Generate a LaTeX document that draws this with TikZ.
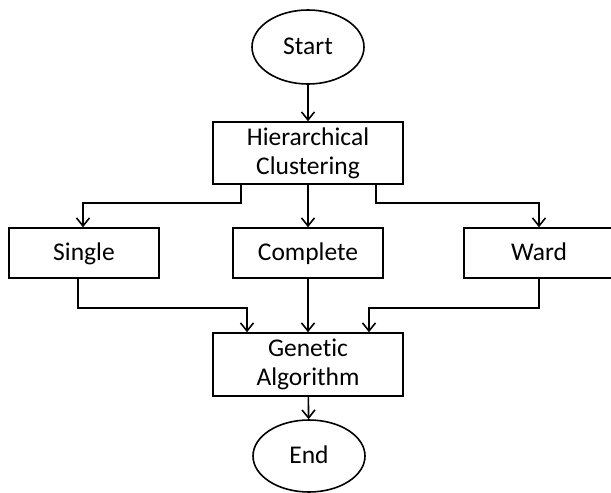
\documentclass[tikz,border=0pt]{standalone}
\usepackage{fontspec}
\setmainfont{Carlito}[Ligatures={NoCommon}]
\usetikzlibrary{shapes.geometric,arrows.meta,calc}
\begin{document}
\begin{tikzpicture}[x=1pt,y=-1pt,
  every node/.style={font=\fontsize{25.5}{29}\selectfont, text=black, align=center, inner sep=0pt},
  oneline/.style={text height=18pt, text depth=4pt},
  box/.style={draw, line width=1.6pt, rectangle},
  oval/.style={draw, line width=1.6pt, ellipse, oneline},
  link/.style={draw, line width=1.6pt, -{Straight Barb[length=8pt,width=13pt,line width=1.6pt]}}]
  \useasboundingbox (0,0) rectangle (611,493);

  \node[oval, minimum width=112pt, minimum height=74pt] (start) at (308,47) {Start};
  \node[box, minimum width=190pt, minimum height=62pt] (hc) at (308,153) {Hierarchical\\Clustering};
  \node[box, oneline, minimum width=150pt, minimum height=50pt] (single) at (84,253) {Single};
  \node[box, oneline, minimum width=150pt, minimum height=50pt] (complete) at (308,253) {Complete};
  \node[box, oneline, minimum width=150pt, minimum height=50pt] (ward) at (539,253) {Ward};
  \node[box, minimum width=190pt, minimum height=63pt] (ga) at (308,364.5) {Genetic\\Algorithm};
  \node[oval, minimum width=112pt, minimum height=72pt] (end) at (309,456) {End};

  \coordinate (split) at (0,203);
  \coordinate (join) at (0,308);

  \draw[link] (start) -- (hc);

  % branches out of the clustering step
  \draw[link] ([xshift=-67pt]hc.south) |- ($(split)+(83,0)$) -- ($(single.north)+(-1,0)$);
  \draw[link] (hc.south) -- (complete.north);
  \draw[link] ([xshift=68pt]hc.south) |- (split -| ward.north) -- (ward.north);

  % branches merging into the genetic algorithm
  \draw[link] ([xshift=-6pt]single.south) |- ($(join -| ga.north)+(-61,0)$) -- ([xshift=-61pt]ga.north);
  \draw[link] (complete.south) -- (ga.north);
  \draw[link] (ward.south) |- ($(join -| ga.north)+(61,0)$) -- ([xshift=61pt]ga.north);

  \draw[link] (ga) -- (end);
\end{tikzpicture}
\end{document}
